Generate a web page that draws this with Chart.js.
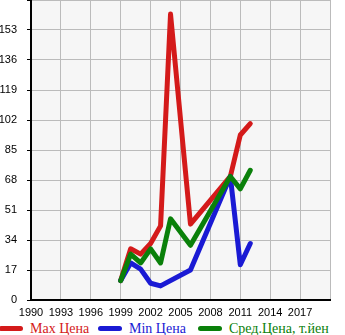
<!DOCTYPE html>
<html>
<head>
<meta charset="utf-8">
<script src="https://cdn.jsdelivr.net/npm/chart.js@4"></script>
<style>
    body { margin: 0; background: #fff; }
    #wrap { position: relative; width: 345px; height: 335px; overflow: hidden; }
    #legend { position: absolute; left: 0; top: 321px; height: 16px; width: 345px;
              font-family: "Liberation Serif", serif; font-size: 14px; white-space: nowrap; }
    .item { position: absolute; top: 0; height: 16px; line-height: 16px; }
    .mark { position: absolute; left: 0; top: 5px; width: 24px; height: 5px; border-radius: 3px; }
    .text { position: absolute; left: 31px; top: 0; }
</style>
</head>
<body>
<div id="wrap">
    <canvas id="chart" width="345" height="320"></canvas>
    <div id="legend"></div>
</div>
<script>
// values (thousand yen)
const maxYears = [1999, 2000, 2001, 2002, 2003, 2004, 2006, 2010, 2011, 2012];
const maxPrice = [11, 29, 26, 32, 42, 162, 43, 70, 93.5, 100];

const minYears = [1999, 2000, 2001, 2002, 2003, 2006, 2010, 2011, 2012];
const minPrice = [11, 21, 17.5, 9.5, 8, 17, 70, 20, 32];

const avgYears = [1999, 2000, 2001, 2002, 2003, 2004, 2006, 2010, 2011, 2012];
const avgPrice = [11, 26, 21, 29, 21, 46, 31, 70, 63, 73.5];

const seriesNames = ['Max Цена', 'Min Цена', 'Сред.Цена, т.йен'];
const seriesColors = ['#d41a1a', '#1a1ad4', '#0a800a'];

const yTicks = [0, 17, 34, 51, 68, 85, 102, 119, 136, 153, 170];
const xTicks = [1990, 1993, 1996, 1999, 2002, 2005, 2008, 2011, 2014, 2017, 2020];

function toPoints(years, values) {
    return years.map((y, i) => ({ x: y, y: values[i] }));
}

const plotBackground = {
    id: 'plotBackground',
    beforeDraw(chart) {
        const { ctx, chartArea } = chart;
        ctx.save();
        ctx.fillStyle = '#f6f6f6';
        ctx.fillRect(chartArea.left, chartArea.top, chartArea.right - chartArea.left, chartArea.bottom - chartArea.top);
        ctx.restore();
    }
};

const lineStyle = {
    borderWidth: 5,
    pointRadius: 0,
    borderJoinStyle: 'round',
    borderCapStyle: 'round',
    tension: 0,
    fill: false
};

const ctx = document.getElementById('chart').getContext('2d');
const chart = new Chart(ctx, {
    type: 'line',
    data: {
        datasets: [
            { label: seriesNames[0], data: toPoints(maxYears, maxPrice), borderColor: seriesColors[0], order: 3, ...lineStyle },
            { label: seriesNames[1], data: toPoints(minYears, minPrice), borderColor: seriesColors[1], order: 2, ...lineStyle },
            { label: seriesNames[2], data: toPoints(avgYears, avgPrice), borderColor: seriesColors[2], order: 1, ...lineStyle }
        ]
    },
    options: {
        responsive: false,
        devicePixelRatio: 1,
        animation: false,
        layout: { padding: { top: 0, right: 15, bottom: 0, left: 0 } },
        plugins: {
            legend: { display: false },
            tooltip: { enabled: false }
        },
        scales: {
            x: {
                type: 'linear',
                min: xTicks[0],
                max: xTicks[xTicks.length - 1],
                afterBuildTicks: s => { s.ticks = xTicks.map(v => ({ value: v })); },
                afterFit: s => { s.height = 20; },
                grid: { color: '#bbbbbb', lineWidth: 1, drawTicks: false },
                border: { color: '#000', width: 2 },
                ticks: {
                    autoSkip: false,
                    maxRotation: 0,
                    padding: 6,
                    color: '#000',
                    font: { family: 'Liberation Sans', size: 11 },
                    callback: v => (v === 2020 ? '' : String(v))
                }
            },
            y: {
                min: 0,
                max: 170,
                afterBuildTicks: s => { s.ticks = yTicks.map(v => ({ value: v })); },
                afterFit: s => { s.width = 31; s.paddingTop = 0; s.paddingBottom = 0; },
                grid: { color: '#bbbbbb', lineWidth: 1, tickColor: '#000', tickLength: 4 },
                border: { color: '#000', width: 2 },
                ticks: {
                    padding: 10,
                    color: '#000',
                    font: { family: 'Liberation Sans', size: 11 },
                    callback: v => (v === 170 ? '' : String(v))
                }
            }
        }
    },
    plugins: [plotBackground]
});

// legend below the plot
const legendLefts = [-1, 98, 198];
const legend = document.getElementById('legend');
seriesNames.forEach((name, i) => {
    const item = document.createElement('div');
    item.className = 'item';
    item.style.left = legendLefts[i] + 'px';
    item.innerHTML = `<span class="mark" style="background:${seriesColors[i]}"></span>` +
        `<span class="text" style="color:${seriesColors[i]}">${name}</span>`;
    legend.appendChild(item);
});
</script>
</body>
</html>
